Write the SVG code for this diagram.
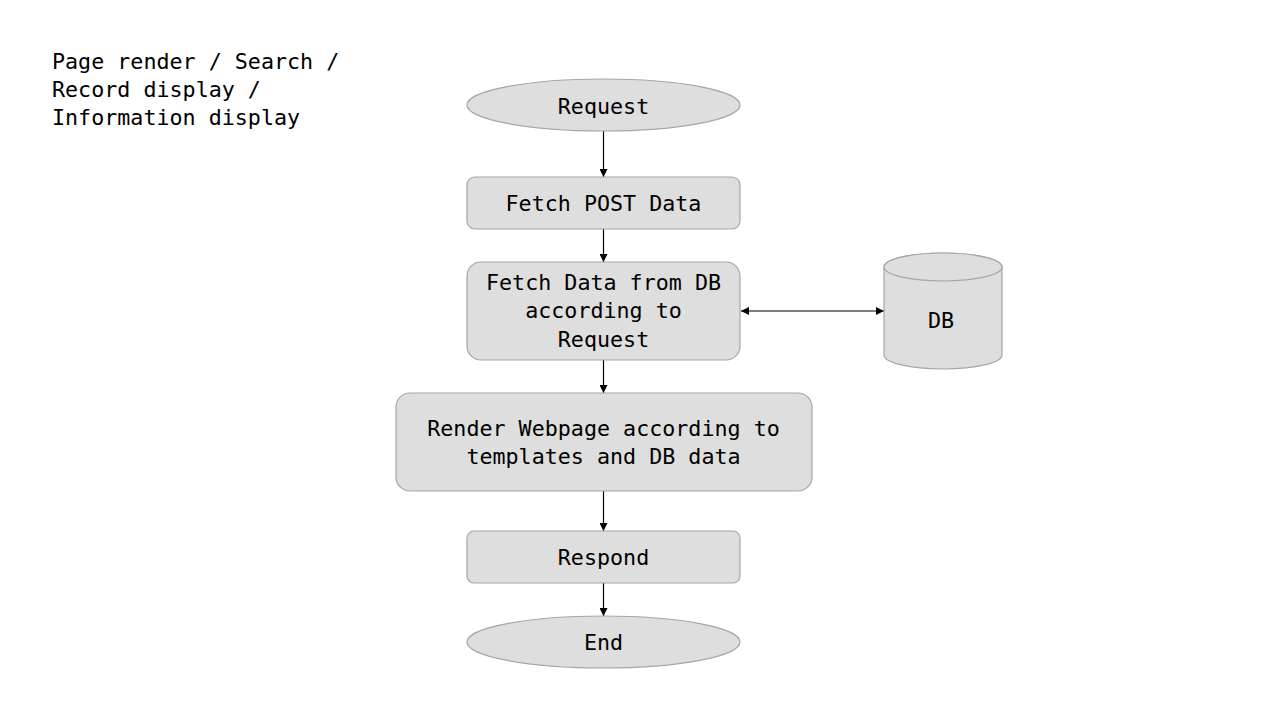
<svg xmlns="http://www.w3.org/2000/svg" width="1280" height="720" viewBox="0 0 1280 720">
<style>
.n{fill:#dedede;stroke:#a6a6a6;stroke-width:1.2}
.t{font-family:"DejaVu Sans Mono","Liberation Mono",monospace;font-size:21.7px;fill:#000}
.c{text-anchor:middle}
.e{stroke:#000;stroke-width:1.2;fill:none}
</style>
<defs>
<marker id="a" viewBox="0 0 10 10" refX="10" refY="5" markerWidth="8" markerHeight="8" markerUnits="userSpaceOnUse" orient="auto-start-reverse">
<path d="M0,0 L10,5 L0,10 z" fill="#000"/>
</marker>
</defs>
<rect width="1280" height="720" fill="#fff"/>
<g id="caption">
<text class="t" x="52" y="69">Page render / Search /</text>
<text class="t" x="52" y="97">Record display /</text>
<text class="t" x="52" y="125">Information display</text>
</g>
<g id="connectors">
<line class="e" x1="603.5" y1="131" x2="603.5" y2="177" marker-end="url(#a)"/>
<line class="e" x1="603.5" y1="229" x2="603.5" y2="262" marker-end="url(#a)"/>
<line class="e" x1="603.5" y1="360" x2="603.5" y2="393" marker-end="url(#a)"/>
<line class="e" x1="603.5" y1="491" x2="603.5" y2="531" marker-end="url(#a)"/>
<line class="e" x1="603.5" y1="583" x2="603.5" y2="616" marker-end="url(#a)"/>
<line class="e" x1="741" y1="311" x2="884" y2="311" marker-start="url(#a)" marker-end="url(#a)"/>
</g>
<g id="request">
<ellipse class="n" cx="603.5" cy="105" rx="136.5" ry="26"/>
<text class="t c" x="603.5" y="114">Request</text>
</g>
<g id="fetch-post">
<rect class="n" x="467" y="177" width="273" height="52" rx="8"/>
<text class="t c" x="603.5" y="211">Fetch POST Data</text>
</g>
<g id="fetch-db">
<rect class="n" x="467" y="262" width="273" height="98" rx="14"/>
<text class="t c" x="603.5" y="290">Fetch Data from DB</text>
<text class="t c" x="603.5" y="318">according to</text>
<text class="t c" x="603.5" y="347">Request</text>
</g>
<g id="db">
<path class="n" d="M884,267 L884,355 A59,14 0 0 0 1002,355 L1002,267 A59,14 0 0 0 884,267 z"/>
<ellipse class="n" cx="943" cy="267" rx="59" ry="14" fill="#e6e6e6"/>
<text class="t c" x="941" y="328">DB</text>
</g>
<g id="render">
<rect class="n" x="396" y="393" width="416" height="98" rx="14"/>
<text class="t c" x="603.5" y="436">Render Webpage according to</text>
<text class="t c" x="603.5" y="464">templates and DB data</text>
</g>
<g id="respond">
<rect class="n" x="467" y="531" width="273" height="52" rx="7"/>
<text class="t c" x="603.5" y="565">Respond</text>
</g>
<g id="end">
<ellipse class="n" cx="603.5" cy="642" rx="136.5" ry="26"/>
<text class="t c" x="603.5" y="650">End</text>
</g>
</svg>
